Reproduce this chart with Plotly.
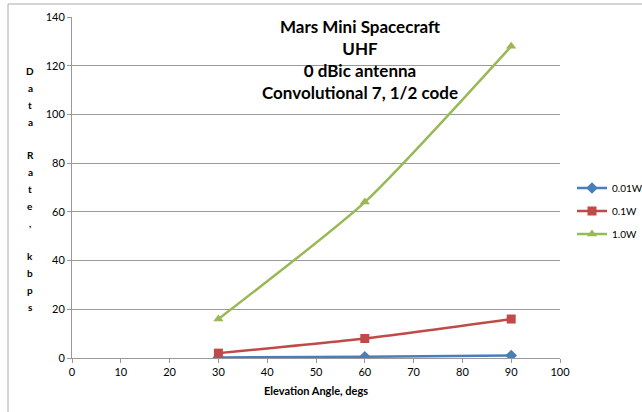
import plotly.graph_objects as go

angles = [30, 60, 90]
rate_001W = [0.2, 0.5, 1.0]
rate_01W = [2, 8, 16]
rate_1W = [16, 64, 128]
series_names = ["0.01W", "0.1W", "1.0W"]
colors = ["#4A7EBB", "#BE4B48", "#98B954"]
symbols = ["diamond", "square", "triangle-up"]

title_lines = ["Mars Mini Spacecraft", "UHF", "0 dBic antenna", "Convolutional 7, 1/2 code"]
y_title = "Data Rate, kbps"
x_title = "Elevation Angle, degs"

FONT = "Lato, Carlito, Calibri, sans-serif"
W, H = 642, 412
L, R, T, B = 72, 82, 17, 54
PW, PH = W - L - R, H - T - B

def px_x(x):
    return (x - L) / PW

def px_y(y):
    return (H - B - y) / PH

fig = go.Figure()
for name, vals, col, sym in zip(series_names, [rate_001W, rate_01W, rate_1W], colors, symbols):
    fig.add_trace(go.Scatter(
        x=angles, y=vals, name=name, legendgroup=name, mode="lines+markers",
        line=dict(color=col, width=2.5, shape="spline", smoothing=0.6),
        marker=dict(symbol=sym, size=9, color=col),
    ))

annotations = [
    dict(text="<br>".join("<b>" + t + "</b>" for t in title_lines),
         xref="paper", yref="paper", x=px_x(360), y=px_y(14),
         xanchor="center", yanchor="top", showarrow=False,
         font=dict(size=17, family=FONT), align="center"),
]
# vertical stacked y-axis title, one character per line
for i, ch in enumerate(y_title):
    if ch == " ":
        continue
    annotations.append(dict(text="<b>" + ch + "</b>", xref="paper", yref="paper",
                            x=px_x(30), y=px_y(71 + i * 16.85),
                            xanchor="center", yanchor="middle", showarrow=False,
                            font=dict(size=10, family=FONT)))

fig.update_layout(
    width=W, height=H,
    margin=dict(l=L, r=R, t=T, b=B, autoexpand=False),
    paper_bgcolor="white", plot_bgcolor="white",
    font=dict(family=FONT, size=10, color="#000"),
    showlegend=True,
    legend=dict(xref="container", yref="container", x=572 / W, y=1 - 211 / H,
                xanchor="left", yanchor="middle",
                font=dict(size=10), bgcolor="rgba(0,0,0,0)", tracegroupgap=4,
                itemwidth=30),
    xaxis=dict(range=[0, 100], dtick=10, showgrid=False, zeroline=False,
               showline=True, linecolor="#999", linewidth=1,
               ticks="outside", ticklen=4, tickcolor="#999", tickfont=dict(size=11),
               title=dict(text="<b>" + x_title + "</b>", font=dict(size=11), standoff=10)),
    yaxis=dict(range=[0, 140], dtick=20, showgrid=True, gridcolor="#999", gridwidth=1,
               zeroline=False, showline=True, linecolor="#999", linewidth=1,
               ticks="outside", ticklen=4, tickcolor="#999", tickfont=dict(size=11)),
    shapes=[dict(type="rect", xref="paper", yref="paper",
                 x0=px_x(8), x1=px_x(700), y0=px_y(460), y1=px_y(4),
                 line=dict(color="#aaa", width=1), fillcolor="rgba(0,0,0,0)", layer="above")],
    annotations=annotations,
)

fig.write_html("out.html", config={"displayModeBar": False},
               post_script="document.body.style.margin='0';")
